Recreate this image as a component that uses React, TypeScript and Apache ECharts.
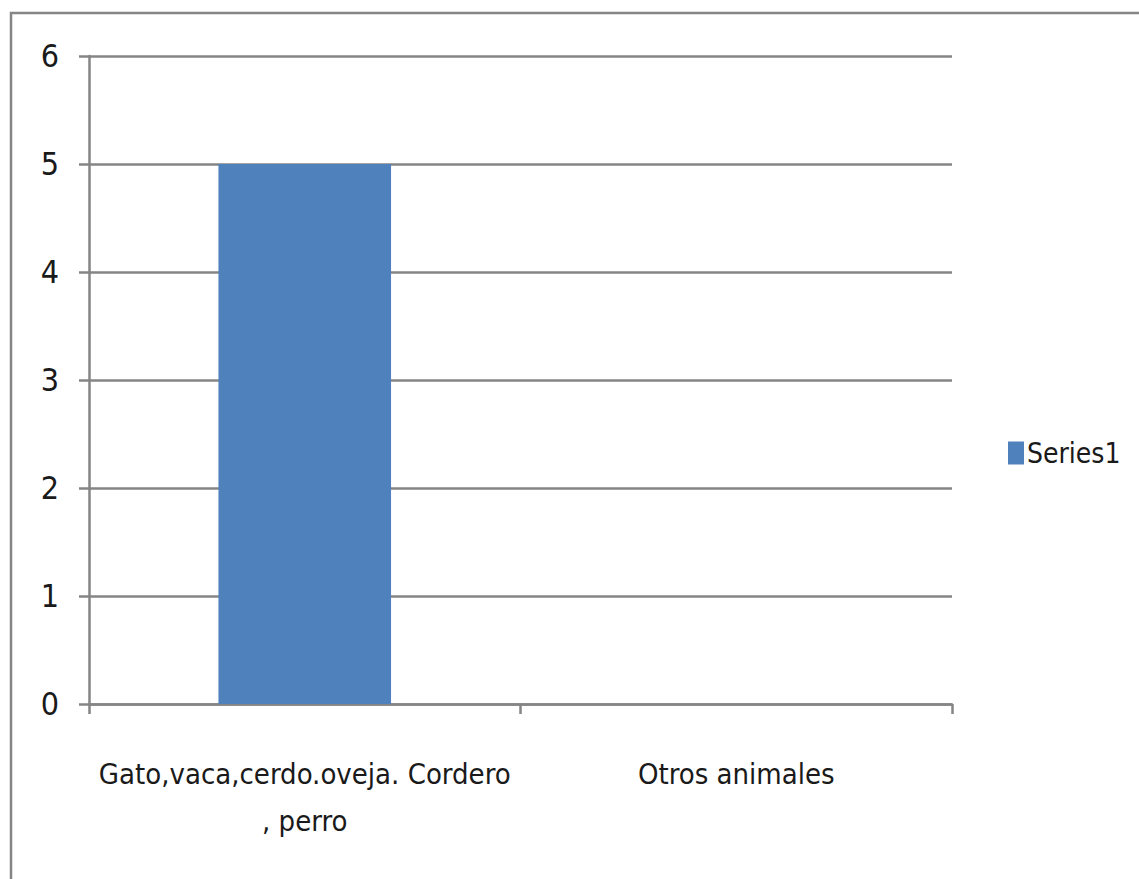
import React, { useEffect, useRef } from "react";
import * as echarts from "echarts";

const categories = ["Gato,vaca,cerdo.oveja. Cordero\n, perro", "Otros animales"];
const series1 = [5, 0];
const yTicks = { min: 0, max: 6, interval: 1 };

const FONT = "'Liberation Sans Narrow', 'DejaVu Sans Condensed', 'Open Sans', sans-serif";
const GRAY = "#858585";

export default function App() {
  const ref = useRef<HTMLDivElement>(null);

  useEffect(() => {
    if (!ref.current) return;
    const chart = echarts.init(ref.current, null, { renderer: "svg" });
    chart.setOption({
      animation: false,
      backgroundColor: "#ffffff",
      textStyle: { fontFamily: FONT },
      graphic: [
        {
          type: "rect",
          shape: { x: 11, y: 13, width: 1140, height: 880 },
          style: { fill: "none", stroke: GRAY, lineWidth: 2.5 },
          silent: true,
        },
      ],
      grid: { left: 89, right: 187, top: 56, bottom: 175 },
      legend: {
        left: 1003,
        top: 434,
        itemWidth: 16,
        itemHeight: 23,
        itemGap: 8,
        icon: "rect",
        textStyle: { fontFamily: FONT, fontSize: 28, color: "#1a1a1a", padding: [0, 0, 0, -2] },
        data: ["Series1"],
      },
      xAxis: {
        type: "category",
        data: categories,
        axisLine: { lineStyle: { color: GRAY, width: 2.5 } },
        axisTick: { show: true, length: 10, alignWithLabel: false, lineStyle: { color: GRAY, width: 2.5 } },
        axisLabel: {
          interval: 0,
          margin: 46,
          fontFamily: FONT,
          fontSize: 29,
          lineHeight: 47,
          color: "#1a1a1a",
        },
      },
      yAxis: {
        type: "value",
        min: yTicks.min,
        max: yTicks.max,
        interval: yTicks.interval,
        axisLine: { show: true, lineStyle: { color: GRAY, width: 2.5 } },
        axisTick: { show: true, length: 10, lineStyle: { color: GRAY, width: 2.5 } },
        splitLine: { lineStyle: { color: GRAY, width: 2.5 } },
        axisLabel: { margin: 30, fontFamily: FONT, fontSize: 32, color: "#1a1a1a" },
      },
      series: [
        {
          name: "Series1",
          type: "bar",
          data: series1,
          barWidth: "40%",
          itemStyle: { color: "#4f81bd" },
        },
      ],
    });
    return () => chart.dispose();
  }, []);

  return (
    <div
      ref={ref}
      style={{ position: "fixed", left: 0, top: 0, width: 1139, height: 879 }}
    />
  );
}
